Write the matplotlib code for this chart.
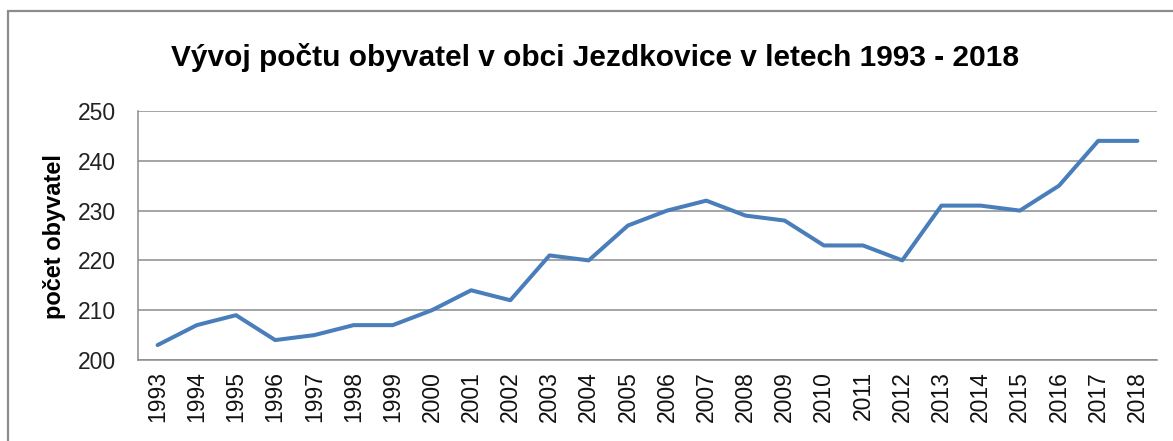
import matplotlib
matplotlib.use("Agg")
import matplotlib.pyplot as plt
from matplotlib.patches import Rectangle

years = [str(y) for y in range(1993, 2019)]
population = [203, 207, 209, 204, 205, 207, 207, 210, 214, 212, 221, 220, 227,
              230, 232, 229, 228, 223, 223, 220, 231, 231, 230, 235, 244, 244]
yticks = [200, 210, 220, 230, 240, 250]
title = "Vývoj počtu obyvatel v obci Jezdkovice v letech 1993 - 2018"
ylabel = "počet obyvatel"

W, H = 1173, 441
fig = plt.figure(figsize=(W / 100, H / 100), dpi=100)
fig.patch.set_facecolor("white")

# outer chart frame (cropped at right/bottom)
fig.patches.append(Rectangle((8 / W, -0.1), 1.2, 1 - 11 / H + 0.1,
                             transform=fig.transFigure, fill=False,
                             edgecolor="#8c8c8c", linewidth=1.6))

left, right, top, bottom = 138, 1157, 111, 360
ax = fig.add_axes([left / W, 1 - bottom / H, (right - left) / W, (bottom - top) / H])

x = list(range(len(years)))
ax.plot(x, population, color="#4a7ebb", linewidth=2.9, solid_joinstyle="round",
        solid_capstyle="round", zorder=3)

ax.set_xlim(-0.5, len(years) - 0.5)
ax.set_ylim(200, 250)
ax.set_yticks(yticks)
ax.set_yticklabels([str(v) for v in yticks])
ax.set_xticks(x)
ax.set_xticklabels(years, rotation=90)

font = "Liberation Sans"
for lab in ax.get_yticklabels():
    lab.set_fontfamily(font)
    lab.set_fontsize(16.5)
    lab.set_color("#222222")
for lab in ax.get_xticklabels():
    lab.set_fontfamily(font)
    lab.set_fontsize(16.5)
    lab.set_color("#111111")

ax.tick_params(axis="both", length=0)
ax.tick_params(axis="y", pad=16)
ax.tick_params(axis="x", pad=8)
ax.grid(axis="y", color="#8c8c8c", linewidth=1.1)
ax.set_axisbelow(True)
for s in ["top", "right"]:
    ax.spines[s].set_visible(False)
ax.spines["left"].set_color("#8c8c8c")
ax.spines["bottom"].set_color("#8c8c8c")
ax.spines["left"].set_linewidth(1.1)
ax.spines["bottom"].set_linewidth(1.1)

fig.text(55 / W, 1 - 237 / H, ylabel, rotation=90, ha="center", va="center",
         fontsize=17, fontweight="bold", family=font)
fig.text(595 / W, 1 - 57 / H, title, ha="center", va="center",
         fontsize=21.5, fontweight="bold", family=font)

fig.savefig("out.png", dpi=100)
